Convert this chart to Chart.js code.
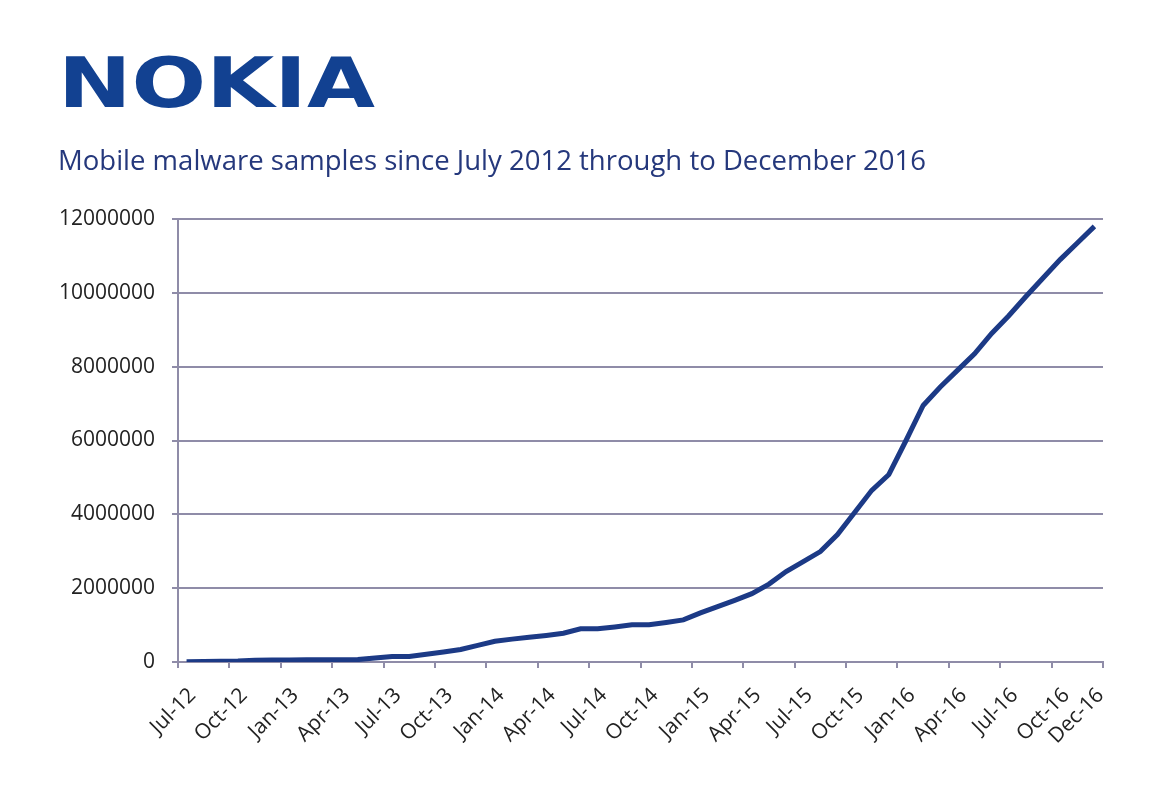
<!DOCTYPE html>
<html>
<head>
<meta charset="utf-8">
<script src="https://cdn.jsdelivr.net/npm/chart.js@4/dist/chart.umd.min.js"></script>
<style>
  html, body { margin: 0; padding: 0; background: #ffffff; }
  #wrap { position: relative; width: 1174px; height: 800px; }
</style>
</head>
<body>
<div id="wrap"><canvas id="myChart" width="1174" height="800"></canvas></div>
<script>
// monthly samples, Jul-12 .. Dec-16
const months = [
  'Jul-12','Aug-12','Sep-12','Oct-12','Nov-12','Dec-12',
  'Jan-13','Feb-13','Mar-13','Apr-13','May-13','Jun-13',
  'Jul-13','Aug-13','Sep-13','Oct-13','Nov-13','Dec-13',
  'Jan-14','Feb-14','Mar-14','Apr-14','May-14','Jun-14',
  'Jul-14','Aug-14','Sep-14','Oct-14','Nov-14','Dec-14',
  'Jan-15','Feb-15','Mar-15','Apr-15','May-15','Jun-15',
  'Jul-15','Aug-15','Sep-15','Oct-15','Nov-15','Dec-15',
  'Jan-16','Feb-16','Mar-16','Apr-16','May-16','Jun-16',
  'Jul-16','Aug-16','Sep-16','Oct-16','Nov-16','Dec-16'
];

const samples = [
  10000, 15000, 20000, 25000, 50000, 55000,
  55000, 60000, 60000, 60000, 65000, 110000,
  150000, 150000, 210000, 270000, 340000, 450000,
  560000, 620000, 670000, 720000, 780000, 900000,
  900000, 950000, 1010000, 1010000, 1070000, 1140000,
  1330000, 1500000, 1670000, 1850000, 2110000, 2450000,
  2720000, 2990000, 3450000, 4050000, 4650000, 5080000,
  6000000, 6950000, 7450000, 7900000, 8350000, 8900000,
  9380000, 9900000, 10400000, 10900000, 11350000, 11800000
];

const yTicks = [0, 2000000, 4000000, 6000000, 8000000, 10000000, 12000000];

const titleText = 'Mobile malware samples since July 2012 through to December 2016';
const navy = '#1c3a86';
const gridColor = '#8f8ca8';
const labelFont = { family: '"Open Sans", sans-serif', size: 21 };

// logo + title drawn straight onto the canvas
const header = {
  id: 'header',
  afterDraw(chart) {
    const ctx = chart.ctx;
    ctx.save();
    ctx.fillStyle = '#124191';
    ctx.font = 'bold 70px "DejaVu Sans"';
    ctx.textBaseline = 'alphabetic';
    let w = ctx.measureText('NOKIA').width;
    ctx.translate(58, 107);
    ctx.scale(317 / w, 1);
    ctx.fillText('NOKIA', 0, 0);
    ctx.restore();

    ctx.save();
    ctx.fillStyle = '#25387c';
    ctx.font = '26.5px "Open Sans"';
    ctx.textBaseline = 'alphabetic';
    w = ctx.measureText(titleText).width;
    ctx.translate(58, 170);
    ctx.scale(868 / w, 1);
    ctx.fillText(titleText, 0, 0);
    ctx.restore();
  }
};

const ctx = document.getElementById('myChart');
new Chart(ctx, {
  type: 'line',
  data: {
    labels: months,
    datasets: [{
      data: samples,
      borderColor: navy,
      borderWidth: 5,
      pointRadius: 0,
      tension: 0,
      fill: false
    }]
  },
  options: {
    responsive: false,
    animation: false,
    layout: { padding: { top: 219, right: 71, left: 0, bottom: 0 } },
    plugins: { legend: { display: false }, tooltip: { enabled: false } },
    scales: {
      x: {
        offset: true,
        grid: {
          offset: true,
          drawOnChartArea: false,
          drawTicks: true,
          tickLength: 6,
          lineWidth: 2,
          color: c => (c.index === undefined || c.index % 3 === 0) ? gridColor : 'rgba(0,0,0,0)'
        },
        border: { color: gridColor, width: 2 },
        ticks: {
          autoSkip: false,
          minRotation: 45,
          maxRotation: 45,
          padding: 15,
          labelOffset: 6,
          color: '#222222',
          font: labelFont,
          callback: function (v, i) {
            return (i % 3 === 0 || i === months.length - 1) ? months[i] : '';
          }
        },
        afterFit: s => { s.height = 138; }
      },
      y: {
        min: 0,
        max: 12000000,
        afterBuildTicks: s => { s.ticks = yTicks.map(v => ({ value: v })); },
        grid: { color: gridColor, lineWidth: 2, tickLength: 6 },
        border: { color: gridColor, width: 2 },
        ticks: {
          padding: 17,
          color: '#222222',
          font: labelFont,
          callback: v => String(v)
        },
        afterFit: s => { s.width = 178; }
      }
    }
  },
  plugins: [header]
});
</script>
</body>
</html>
